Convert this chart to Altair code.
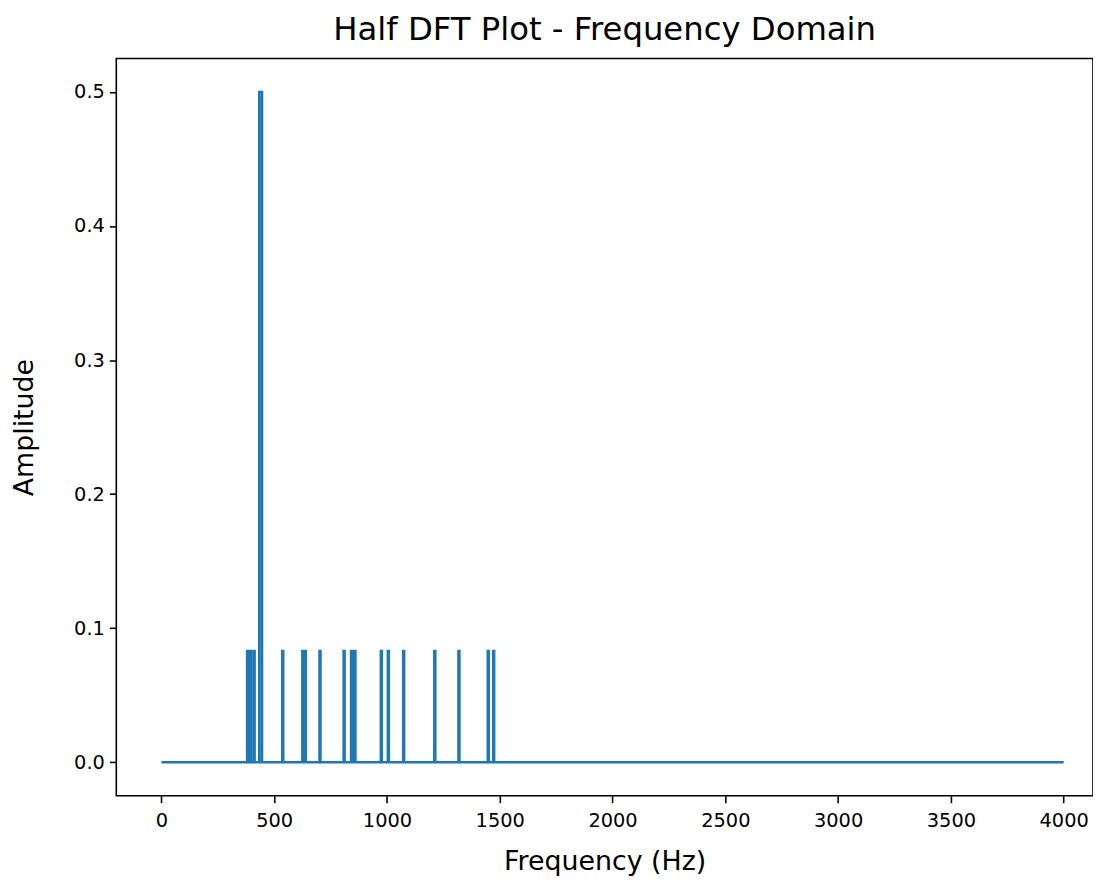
import altair as alt
import pandas as pd

# Spike data (Hz, amplitude)
spike_freqs = [382, 395, 411, 440, 538, 627, 638, 703, 810, 843, 858, 975, 1006, 1074, 1212, 1319, 1449, 1473]
spike_amps = [0.083, 0.083, 0.083, 0.5, 0.083, 0.083, 0.083, 0.083, 0.083, 0.083, 0.083, 0.083, 0.083, 0.083, 0.083, 0.083, 0.083, 0.083]
spike_widths = [4, 4, 4, 12, 4, 4, 4, 4, 4, 4, 4, 4, 4, 4, 4, 4, 4, 4]
freq_start = 0
freq_end = 4000

x_ticks = [0, 500, 1000, 1500, 2000, 2500, 3000, 3500, 4000]
y_ticks = [0.0, 0.1, 0.2, 0.3, 0.4, 0.5]

rows = [(freq_start, 0.0)]
for f, a, w in zip(spike_freqs, spike_amps, spike_widths):
    rows += [(f - w / 2, 0.0), (f - w / 2, a), (f + w / 2, a), (f + w / 2, 0.0)]
rows.append((freq_end, 0.0))
df = pd.DataFrame(rows, columns=["freq", "amp"])
df["i"] = range(len(df))

FONT = "DejaVu Sans"

chart = alt.Chart(df).mark_line(color="#1f77b4", strokeWidth=2.6, strokeJoin="miter").encode(
    x=alt.X("freq:Q", scale=alt.Scale(domain=[-200, 4130], nice=False, zero=False),
            axis=alt.Axis(values=x_ticks, format="d", title="Frequency (Hz)")),
    y=alt.Y("amp:Q", scale=alt.Scale(domain=[-0.025, 0.525], nice=False, zero=False),
            axis=alt.Axis(values=y_ticks, format=".1f", title="Amplitude")),
    order="i:Q",
).properties(
    width=983,
    height=742,
    title=alt.TitleParams("Half DFT Plot - Frequency Domain", fontSize=32.5, font=FONT,
                          fontWeight="normal", color="black", offset=12),
    autosize=alt.AutoSizeParams(type="none"),
    padding={"left": 109, "top": 48, "right": 0, "bottom": 78},
).configure_view(
    stroke="black", strokeWidth=1.6
).configure_axis(
    grid=False, domain=False, tickColor="black", tickWidth=1.6, tickSize=7,
    labelFont=FONT, labelFontSize=19.5, labelColor="black",
    titleFont=FONT, titleFontSize=27, titleColor="black", titleFontWeight="normal",
).configure_axisX(titlePadding=19, labelPadding=9).configure_axisY(titlePadding=35, labelPadding=5)

chart.save("out.html", embed_options={"renderer": "svg", "actions": False})
